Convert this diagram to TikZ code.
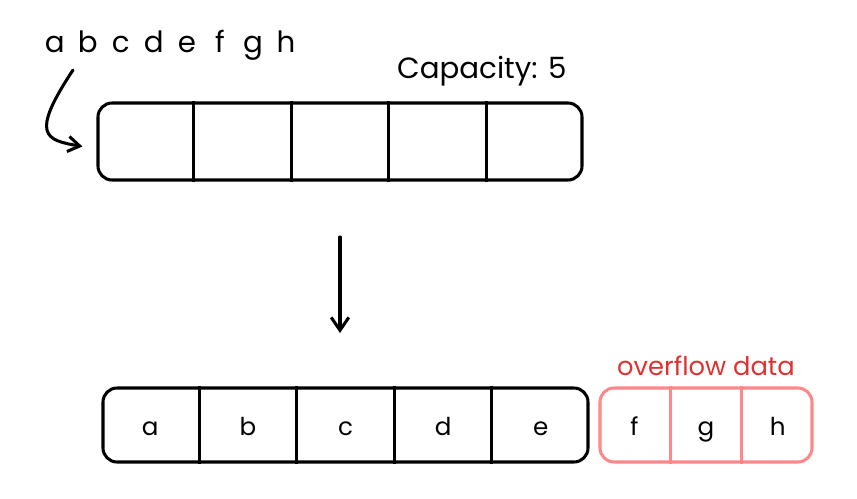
\documentclass[tikz,border=0pt]{standalone}
\usepackage{fontspec}
\setmainfont{Poppins}
\usetikzlibrary{positioning,calc,arrows.meta}
\definecolor{ovred}{HTML}{E03131}
\definecolor{ovbox}{HTML}{FF8787}
\newcommand{\slot}[1]{\makebox[28.2pt]{#1}}
\tikzset{
  buf/.style={draw=black, line width=2.6pt, rounded corners=12pt, inner sep=0pt},
  cell/.style={font=\fontsize{21}{24}\selectfont, anchor=base},
  hand/.style={font=\fontsize{25}{28}\selectfont},
  sketch/.style={line width=2.6pt, line cap=round},
}
\begin{document}
\begin{tikzpicture}[x=0.03cm,y=-0.03cm]
\useasboundingbox (0,0) rectangle (857,499);
% input letters and capacity
\node[hand, anchor=base west, inner sep=0pt] (input) at (38,52) {\slot{a}\slot{b}\slot{c}\slot{d}\slot{e}\slot{f}\slot{g}\slot{h}};
\node[hand, anchor=base west, inner sep=0pt] (cap) at (397,78) {Capacity: 5};
% empty buffer
\node[buf, minimum width=14.52cm, minimum height=2.31cm] (top) at (340,141.5) {};
\foreach \i in {1,...,4}
  \draw[line width=2.5pt] ($(top.north west)!\i/5!(top.north east)$) -- ($(top.south west)!\i/5!(top.south east)$);
\coordinate (from) at (73,70);
\draw[sketch, -{Straight Barb[length=10pt,width=13pt,line width=2.6pt]}] (from) .. controls (30,135) and (45,140) .. ($(top.west)+(-14,5)$);
% step arrow
\coordinate (s1) at (340,237);
\coordinate (s2) at (340,333);
\draw[sketch, -{Straight Barb[length=11pt,width=15pt,line width=2.6pt]}] (s1) -- (s2);
% filled buffer
\node[buf, minimum width=14.55cm, minimum height=2.22cm] (bot) at (345.5,425) {};
\foreach \i in {1,...,4}
  \draw[line width=2.5pt] ($(bot.north west)!\i/5!(bot.north east)$) -- ($(bot.south west)!\i/5!(bot.south east)$);
\foreach \t [count=\i] in {a,b,c,d,e}
  \node[cell] (b\i) at ($(bot.west)!{(2*\i-1)/10}!(bot.east)+(0,10)$) {\t};
% overflow
\node[buf, draw=ovbox, minimum width=6.36cm, minimum height=2.22cm] (ovf) at (706,425) {};
\foreach \i in {1,2}
  \draw[ovbox, line width=2.5pt] ($(ovf.north west)!\i/3!(ovf.north east)$) -- ($(ovf.south west)!\i/3!(ovf.south east)$);
\foreach \t [count=\i] in {f,g,h}
  \node[cell] (o\i) at ($(ovf.west)!{(2*\i-1)/6}!(ovf.east)+(0,10)$) {\t};
\node[hand, text=ovred, font=\fontsize{22}{26}\selectfont, above=6pt of ovf] (ovlab) {overflow data};
\end{tikzpicture}
\end{document}
